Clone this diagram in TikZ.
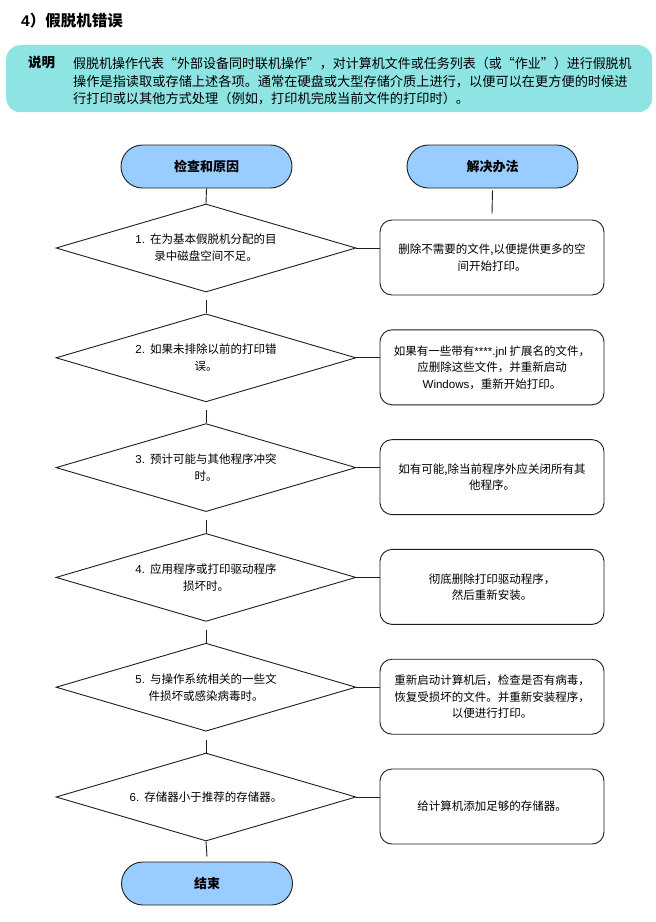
\documentclass[tikz,border=0pt]{standalone}
\usepackage{fontspec}
\usepackage{graphicx}
\setmainfont{Noto Sans CJK SC}
\newfontfamily\lat{Liberation Sans}
\usetikzlibrary{shapes.geometric,calc}
\definecolor{notecyan}{RGB}{142,227,227}
\definecolor{pillblue}{RGB}{153,204,255}
\definecolor{edge}{RGB}{30,30,30}
\begin{document}
\begin{tikzpicture}[x=1pt,y=-1pt,
  pill/.style={draw=edge, line width=0.9pt, fill=pillblue, rounded corners=21.5pt,
    minimum width=171pt, minimum height=43pt, inner sep=0pt,
    font=\fontsize{13}{15}\selectfont\bfseries},
  dia/.style={draw=edge, line width=0.9pt, diamond, aspect=3.41, inner sep=0pt,
    minimum width=300pt, minimum height=88pt, align=center,
    font=\fontsize{11.5}{17}\selectfont},
  solbox/.style={draw=edge, line width=0.9pt, rounded corners=12pt,
    minimum width=224pt, minimum height=75pt, inner sep=0pt, align=center,
    font=\fontsize{11.5}{16.5}\selectfont},
  conn/.style={draw=edge, line width=0.9pt}
]
\useasboundingbox (0,0) rectangle (656,922);
\fill[white] (0,0) rectangle (656,922);

% title
\node[anchor=base west, inner sep=0pt, font=\fontsize{15.5}{18}\selectfont\bfseries] (title) at (21,26) {{\lat 4}）假脱机错误};

% note box
\node[fill=notecyan, rounded corners=14pt, minimum width=646pt, minimum height=67pt,
  anchor=north west, inner sep=0pt] (note) at (6,45) {};
\node[anchor=base west, inner sep=0pt, font=\fontsize{13.5}{17.5}\selectfont\bfseries] (lbl) at (28,67.5) {说明};
\node[anchor=north west, inner sep=0pt, align=left, font=\fontsize{13.2}{17.5}\selectfont] (para) at (73,57)
 {\scalebox{0.984}[1]{假脱机操作代表“外部设备同时联机操作”，对计算机文件或任务列表（或“作业”）进行假脱机}\\
  操作是指读取或存储上述各项。通常在硬盘或大型存储介质上进行，以便可以在更方便的时候进\\
  行打印或以其他方式处理（例如，打印机完成当前文件的打印时）。};

% headers
\node[pill] (h1) at (206.5,166.5) {检查和原因};
\node[pill] (h2) at (492.5,166.5) {解决办法};

% diamonds
\node[dia] (d1) at (206,248)   {{\lat 1.}\ \ 在为基本假脱机分配的目\\录中磁盘空间不足。};
\node[dia] (d2) at (206,357.8) {{\lat 2.}\ \ 如果未排除以前的打印错\\误。};
\node[dia] (d3) at (206,467.6) {{\lat 3.}\ \ 预计可能与其他程序冲突\\时。};
\node[dia] (d4) at (206,577.4) {{\lat 4.}\ \ 应用程序或打印驱动程序\\损坏时。};
\node[dia] (d5) at (206,687.2) {{\lat 5.}\ \ 与操作系统相关的一些文\\件损坏或感染病毒时。};
\node[dia] (d6) at (206,797)   {{\lat 6.}\ \ 存储器小于推荐的存储器。};

% solution boxes
\node[solbox] (b1) at (492,257.5) {删除不需要的文件,以便提供更多的空\\间开始打印。};
\node[solbox] (b2) at (492,367.3) {如果有一些带有{\lat ****.jnl} 扩展名的文件，\\应删除这些文件，并重新启动\\{\lat Windows}，重新开始打印。};
\node[solbox] (b3) at (492,477.1) {如有可能,除当前程序外应关闭所有其\\他程序。};
\node[solbox] (b4) at (492,586.9) {彻底删除打印驱动程序，\\然后重新安装。};
\node[solbox] (b5) at (492,696.7) {重新启动计算机后，检查是否有病毒，\\恢复受损坏的文件。并重新安装程序，\\以便进行打印。};
\node[solbox] (b6) at (492,806.5) {给计算机添加足够的存储器。};

% end
\node[pill] (e) at (207,883.5) {结束};

% connectors
\draw[conn] (h1.south) -- (d1.north);
\draw[conn] ([yshift=-2pt]h2.south) -- ([yshift=6pt]b1.north);
\draw[conn] ([yshift=-8pt]d1.south) -- (d2.north);
\draw[conn] ([yshift=-8pt]d2.south) -- (d3.north);
\draw[conn] ([yshift=-8pt]d3.south) -- (d4.north);
\draw[conn] ([yshift=-8pt]d4.south) -- (d5.north);
\draw[conn] ([yshift=-8pt]d5.south) -- (d6.north);
\draw[conn] (d6.south) -- ([yshift=5pt]e.north);
\foreach \i in {1,...,6} {
  \draw[conn] (d\i.east) -- (d\i.east -| b\i.west);
}
\end{tikzpicture}
\end{document}
